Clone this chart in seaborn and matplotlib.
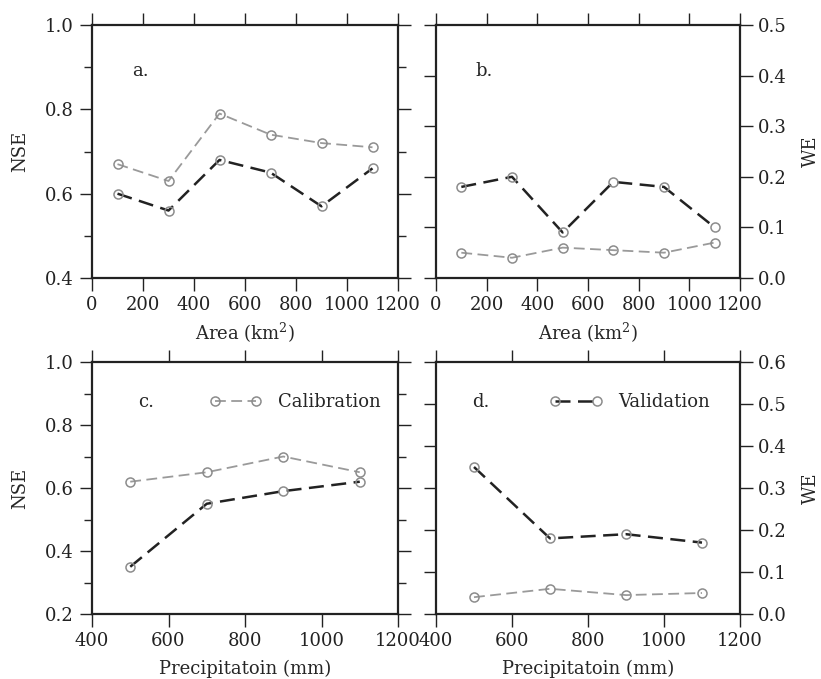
import matplotlib
matplotlib.use("Agg")
import matplotlib.pyplot as plt
import seaborn as sns
from matplotlib.ticker import MultipleLocator

# ---- data ----
area = [100, 300, 500, 700, 900, 1100]
nse_area_cal = [0.67, 0.63, 0.79, 0.74, 0.72, 0.71]
nse_area_val = [0.60, 0.56, 0.68, 0.65, 0.57, 0.66]
we_area_cal = [0.05, 0.04, 0.06, 0.055, 0.05, 0.07]
we_area_val = [0.18, 0.20, 0.09, 0.19, 0.18, 0.10]

precip = [500, 700, 900, 1100]
nse_prec_cal = [0.62, 0.65, 0.70, 0.65]
nse_prec_val = [0.35, 0.55, 0.59, 0.62]
we_prec_cal = [0.04, 0.06, 0.045, 0.05]
we_prec_val = [0.35, 0.18, 0.19, 0.17]

series_names = ["Calibration", "Validation"]
panel_letters = ["a.", "b.", "c.", "d."]

sns.set_style("ticks")
plt.rcParams["font.family"] = ["DejaVu Serif"]
plt.rcParams["mathtext.fontset"] = "dejavuserif"

FS = 13
GRAY = "#9a9a9a"
BLACK = "#222222"
MEC = "#8c8c8c"

fig = plt.figure(figsize=(8.21, 6.79), dpi=100)
W, H = 821, 679

def ax_at(x0, y0, x1, y1):
    return fig.add_axes([x0 / W, 1 - y1 / H, (x1 - x0) / W, (y1 - y0) / H])

ax_a = ax_at(92, 25, 398, 278)
ax_b = ax_at(436, 25, 740, 278)
ax_c = ax_at(92, 362, 398, 614)
ax_d = ax_at(436, 362, 740, 614)

def draw(ax, xs, cal, val):
    handles = []
    for ys, col, lw in ((cal, GRAY, 1.3), (val, BLACK, 1.8)):
        sns.lineplot(x=xs, y=ys, ax=ax, color=col, linewidth=lw,
                     linestyle=(0, (6, 3)), marker="o", markersize=6.5,
                     markerfacecolor="none", markeredgecolor=MEC,
                     markeredgewidth=1.1, legend=False)
        handles.append(ax.lines[-1])
    return handles

def style(ax, xlim, xmaj, ylim, ymaj, ymin, right=False):
    ax.set_xlim(*xlim)
    ax.set_ylim(*ylim)
    ax.xaxis.set_major_locator(MultipleLocator(xmaj))
    ax.yaxis.set_major_locator(MultipleLocator(ymaj))
    if ymin:
        ax.yaxis.set_minor_locator(MultipleLocator(ymin))
    for s in ax.spines.values():
        s.set_visible(True)
        s.set_linewidth(1.6)
        s.set_color("#222222")
    ax.tick_params(which="major", direction="out", length=9, width=1.0,
                   top=True, right=True, left=True, bottom=True,
                   labelsize=FS, colors="#222222", pad=4)
    ax.tick_params(which="minor", direction="out", length=6, width=1.0,
                   top=True, right=True, left=True, bottom=True)
    if right:
        ax.tick_params(labelleft=False, labelright=True)
        ax.yaxis.set_label_position("right")
    ax.set_xlabel("")
    ax.set_ylabel("")

def fmt_y(ax):
    ax.set_yticks(ax.get_yticks())
    ax.set_yticklabels([f"{v:.1f}" for v in ax.get_yticks()])

h_a = draw(ax_a, area, nse_area_cal, nse_area_val)
style(ax_a, (0, 1200), 200, (0.4, 1.0), 0.2, 0.1)
fmt_y(ax_a)
ax_a.set_ylim(0.4, 1.0)
ax_a.set_ylabel("NSE", fontsize=FS)
ax_a.yaxis.set_label_coords(-0.205, 0.5)
ax_a.set_xlabel("Area (km$^2$)", fontsize=FS, labelpad=5)

h_b = draw(ax_b, area, we_area_cal, we_area_val)
style(ax_b, (0, 1200), 200, (0.0, 0.5), 0.1, None, right=True)
fmt_y(ax_b)
ax_b.set_ylim(0.0, 0.5)
ax_b.set_ylabel("WE", fontsize=FS)
ax_b.yaxis.set_label_coords(1.205, 0.5)
ax_b.set_xlabel("Area (km$^2$)", fontsize=FS, labelpad=5)

h_c = draw(ax_c, precip, nse_prec_cal, nse_prec_val)
style(ax_c, (400, 1200), 200, (0.2, 1.0), 0.2, 0.1)
fmt_y(ax_c)
ax_c.set_ylim(0.2, 1.0)
ax_c.set_ylabel("NSE", fontsize=FS)
ax_c.yaxis.set_label_coords(-0.205, 0.5)
ax_c.set_xlabel("Precipitatoin (mm)", fontsize=FS, labelpad=7)

h_d = draw(ax_d, precip, we_prec_cal, we_prec_val)
style(ax_d, (400, 1200), 200, (0.0, 0.6), 0.1, None, right=True)
fmt_y(ax_d)
ax_d.set_ylim(0.0, 0.6)
ax_d.set_ylabel("WE", fontsize=FS)
ax_d.yaxis.set_label_coords(1.205, 0.5)
ax_d.set_xlabel("Precipitatoin (mm)", fontsize=FS, labelpad=7)

for ax, lab, (tx, ty) in zip([ax_a, ax_b, ax_c, ax_d], panel_letters,
                             [(0.13, 0.82), (0.13, 0.82), (0.15, 0.84), (0.12, 0.84)]):
    ax.text(tx, ty, lab, transform=ax.transAxes, fontsize=FS,
            ha="left", va="center")

ax_c.legend([h_c[0]], [series_names[0]], loc="center left",
            bbox_to_anchor=(0.36, 0.84), frameon=False, fontsize=FS,
            numpoints=2, handlelength=2.9, handletextpad=0.9, borderaxespad=0)
ax_d.legend([h_d[1]], [series_names[1]], loc="center left",
            bbox_to_anchor=(0.35, 0.84), frameon=False, fontsize=FS,
            numpoints=2, handlelength=2.9, handletextpad=0.9, borderaxespad=0)

fig.savefig("out.png", dpi=100)
